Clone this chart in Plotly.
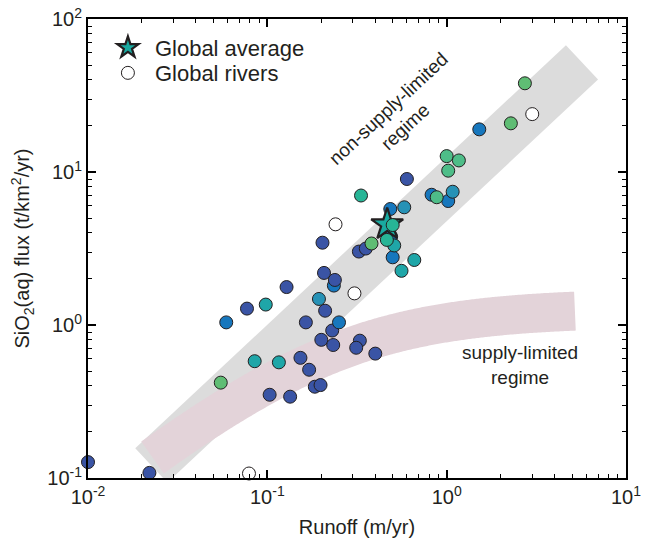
import numpy as np
import plotly.graph_objects as go

# ---------------- data (runoff m/yr, SiO2 flux t/km2/yr) ----------------
dark_x = [0.01, 0.022, 0.077, 0.128, 0.203, 0.207, 0.210, 0.164, 0.230, 0.200, 0.233,
          0.328, 0.313, 0.40, 0.153, 0.171, 0.184, 0.198, 0.103, 0.134, 0.324, 0.354, 0.60]
dark_y = [0.127, 0.108, 1.28, 1.77, 3.45, 2.19, 1.24, 1.04, 0.92, 0.80, 0.74,
          0.79, 0.71, 0.65, 0.61, 0.51, 0.395, 0.405, 0.35, 0.34, 3.02, 3.16, 9.0]

blue_x = [0.059, 0.251, 0.235, 1.52, 0.485, 0.824, 1.02, 0.50, 0.49]
blue_y = [1.04, 1.04, 1.81, 19.0, 5.73, 7.1, 6.46, 2.77, 3.78]

dark2_x = [0.238]
dark2_y = [1.97]

tealblue_x = [0.194, 1.08, 0.58]
tealblue_y = [1.48, 7.43, 5.88]

teal_x = [0.098, 0.085, 0.116, 0.66, 0.56, 0.51]
teal_y = [1.36, 0.58, 0.57, 2.66, 2.26, 3.31]

tealgreen_x = [0.333, 0.464]
tealgreen_y = [7.02, 3.60]

green_x = [0.055, 0.381, 2.73, 2.28]
green_y = [0.42, 3.41, 38.0, 20.8]

lightgreen_x = [1.00, 1.17, 1.02, 0.88]
lightgreen_y = [12.7, 11.9, 10.2, 6.84]

rivers_x = [0.306, 0.079, 3.0, 0.24]
rivers_y = [1.61, 0.107, 23.9, 4.55]

avg_x = [0.466]
avg_y = [4.54]

avg_cover_x = [0.50]
avg_cover_y = [4.50]

# regime bands (model curves)
nsl_k, nsl_b = 7.74, 1.097          # non-supply-limited: y = k * x^b
nsl_xrange = [0.02254, 5.684]
sl_ymax, sl_x0, sl_p = 1.3, 0.23, 0.93   # supply-limited: y = ymax * r/(1+r), r=(x/x0)^p
sl_xrange = [0.0229, 5.19]

x_tickvals = [0.01, 0.1, 1, 10]
x_ticktext = ["10<sup>-2</sup>", "10<sup>-1</sup>", "10<sup>0</sup>", "10<sup>1</sup>"]
y_tickvals = [0.1, 1, 10, 100]
y_ticktext = ["10<sup>-1</sup>", "10<sup>0</sup>", "10<sup>1</sup>", "10<sup>2</sup>"]

# ---------------- figure ----------------
FONT = "Liberation Sans, Arial, Helvetica, sans-serif"
TXT = "#231f20"
EDGE = "#231f20"
MS = 13

fig = go.Figure()

xg = np.array(nsl_xrange)
fig.add_trace(go.Scatter(x=xg, y=nsl_k * xg ** nsl_b, mode="lines",
                         line=dict(color="#dcdcdc", width=47, simplify=False),
                         showlegend=False, hoverinfo="skip"))

xs = np.logspace(np.log10(sl_xrange[0]), np.log10(sl_xrange[1]), 300)
r = (xs / sl_x0) ** sl_p
fig.add_trace(go.Scatter(x=xs, y=sl_ymax * r / (1 + r), mode="lines",
                         line=dict(color="#e3d3d9", width=39, simplify=False,
                                   shape="linear"),
                         showlegend=False, hoverinfo="skip"))


def pts(x, y, color, name=None, legend=None, symbol="circle", size=MS, lw=1):
    fig.add_trace(go.Scatter(
        x=x, y=y, mode="markers", name=name, showlegend=legend is not None,
        legend=legend if legend else "legend",
        marker=dict(symbol=symbol, size=size, color=color,
                    line=dict(color=EDGE, width=lw)),
        cliponaxis=False))


pts(dark_x, dark_y, "#3a54a5")
pts(blue_x, blue_y, "#1777bd")
pts(dark2_x, dark2_y, "#3a54a5")
pts(tealblue_x, tealblue_y, "#2792b6")
pts(teal_x, teal_y, "#1fa6a8")
pts(tealgreen_x, tealgreen_y, "#27b596")
pts(green_x, green_y, "#5fbd74")
pts(lightgreen_x, lightgreen_y, "#4ebd88")
pts(rivers_x, rivers_y, "white", name="Global rivers", legend="legend2")
pts(avg_x, avg_y, "#19aaa0", name="Global average", legend="legend",
    symbol="star", size=24, lw=2.2)
pts(avg_cover_x, avg_cover_y, "#27b596")

axis_common = dict(
    type="log", showline=True, linecolor="black", linewidth=2, mirror="allticks",
    ticks="inside", ticklen=8, tickwidth=1.5, tickcolor="black",
    showgrid=False, zeroline=False, automargin=False, ticklabeloverflow="allow",
    tickfont=dict(family=FONT, size=20, color=TXT),
    minor=dict(ticks="inside", ticklen=4, tickwidth=1, tickcolor="black",
               dtick="D1", showgrid=False),
)

fig.update_xaxes(axis_common, range=[-2, 1], tickvals=x_tickvals, ticktext=x_ticktext,
                 title=dict(text="Runoff (m/yr)", font=dict(family=FONT, size=20, color=TXT),
                            standoff=13))
fig.update_yaxes(axis_common, range=[-1, 2], tickvals=y_tickvals, ticktext=y_ticktext,
                 title=dict(text="SiO<sub>2</sub>(aq) flux (t/km<sup>2</sup>/yr)",
                            font=dict(family=FONT, size=20, color=TXT), standoff=24))

fig.add_annotation(xref="paper", yref="paper", x=0.574, y=0.784,
                   xanchor="center", yanchor="middle",
                   text="non-supply-limited<br>regime", showarrow=False, textangle=-43,
                   font=dict(family=FONT, size=19, color=TXT))
fig.add_annotation(xref="paper", yref="paper", x=0.803, y=0.246,
                   xanchor="center", yanchor="middle",
                   text="supply-limited<br>regime", showarrow=False,
                   font=dict(family=FONT, size=19, color=TXT))

legend_common = dict(xanchor="left", yanchor="top", bgcolor="rgba(0,0,0,0)",
                     font=dict(family=FONT, size=22, color=TXT),
                     itemsizing="trace", itemwidth=44, borderwidth=0)

fig.update_layout(
    width=644, height=540,
    margin=dict(l=80, r=26, t=11, b=70),
    paper_bgcolor="white", plot_bgcolor="white",
    font=dict(family=FONT, color=TXT),
    legend=dict(legend_common, x=0.024, y=0.983),
    legend2=dict(legend_common, x=0.024, y=0.928),
)

fig.write_html("out.html")
